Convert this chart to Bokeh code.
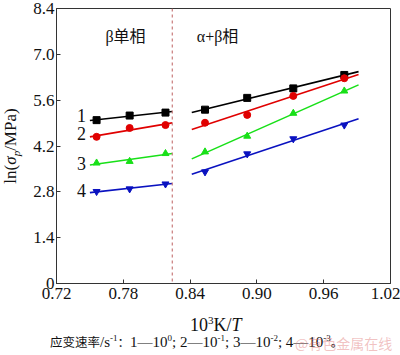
import numpy as np
from bokeh.plotting import figure
from bokeh.models import Range1d, FixedTicker, Label, Span, Div, CustomJSTickFormatter
from bokeh.layouts import column, row
from bokeh.embed import file_html
from bokeh.resources import INLINE

# ---- data ----
x_beta = [0.756, 0.7857, 0.8179]
x_ab = [0.8534, 0.8913, 0.9327, 0.9785]
beta_vals = {
    "1": [4.99, 5.13, 5.22],
    "2": [4.48, 4.75, 4.84],
    "3": [3.68, 3.73, 3.97],
    "4": [2.81, 2.89, 3.04],
}
ab_vals = {
    "1": [5.31, 5.67, 5.96, 6.37],
    "2": [4.91, 5.15, 5.73, 6.27],
    "3": [4.02, 4.50, 5.20, 5.88],
    "4": [3.41, 3.96, 4.42, 4.84],
}
fit_range_beta = [0.750, 0.824]
fit_range_ab = [0.8415, 0.9913]
phase_boundary = 0.824
x_ticks = [0.72, 0.78, 0.84, 0.90, 0.96, 1.02]
y_ticks = [0, 1.4, 2.8, 4.2, 5.6, 7.0, 8.4]
series_names = ["1", "2", "3", "4"]
series_label_y = [5.14, 4.58, 3.68, 2.84]
phase_names = ["β单相", "α+β相"]
phase_label_x = [0.782, 0.8647]
phase_label_y = 7.55
colors = ["#000000", "#e00000", "#18e018", "#0a12c0"]
markers = ["square", "circle", "triangle", "inverted_triangle"]

SERIF = "'Liberation Serif', 'Times New Roman', serif"
SERIF_CJK = "'Liberation Serif', 'Times New Roman', 'Noto Sans CJK SC', serif"

p = figure(width=370, height=307, output_backend="svg", toolbar_location=None,
           x_range=Range1d(0.72, 1.02), y_range=Range1d(0, 8.4),
           min_border_left=22, min_border_right=10, min_border_top=8,
           min_border_bottom=24)
p.background_fill_color = "white"
p.border_fill_color = "white"
p.outline_line_color = "#333333"
p.outline_line_width = 1
p.xgrid.visible = False
p.ygrid.visible = False

p.xaxis[0].formatter = CustomJSTickFormatter(code="return tick.toFixed(2);")
p.yaxis[0].formatter = CustomJSTickFormatter(code="return tick == 0 ? '0' : tick.toFixed(1);")
for ax, ticks in ((p.xaxis[0], x_ticks), (p.yaxis[0], y_ticks)):
    ax.ticker = FixedTicker(ticks=ticks)
    ax.major_tick_in = 4
    ax.major_tick_out = 0
    ax.minor_tick_line_color = None
    ax.major_label_text_font = SERIF
    ax.major_label_text_font_size = "17px"
    ax.major_label_text_color = "#111111"
    ax.axis_line_color = "#333333"
    ax.major_tick_line_color = "#333333"
p.xaxis.major_label_standoff = 4
p.yaxis.major_label_standoff = 2

p.add_layout(Span(location=phase_boundary, dimension="height", line_color="#c87a7a",
                  line_dash="3 3", line_width=1.2))

for name, c, m in zip(series_names, colors, markers):
    for xs, ys, rng in ((x_beta, beta_vals[name], fit_range_beta),
                        (x_ab, ab_vals[name], fit_range_ab)):
        k, b = np.polyfit(xs, ys, 1)
        rx = np.array(rng)
        p.line(rx, k * rx + b, line_color=c, line_width=1.6)
        p.scatter(xs, ys, marker=m, size=7, fill_color=c, line_color=c)

for name, yv in zip(series_names, series_label_y):
    p.add_layout(Label(x=0.7425, y=yv, text=name, text_font=SERIF,
                       text_font_size="18px", text_align="center", text_baseline="middle",
                       text_color="#111111"))

for txt, xv in zip(phase_names, phase_label_x):
    p.add_layout(Label(x=xv, y=phase_label_y, text=txt, text_font=SERIF_CJK,
                       text_font_size="16px", text_align="center", text_baseline="middle",
                       text_color="#111111"))

SERIF_CSS = "'Liberation Serif','Times New Roman',serif"
ylab = Div(width=30, height=307, margin=0, text=(
    "<div style=\"position:relative;width:30px;height:307px;\">"
    "<span style=\"position:absolute;left:12px;top:146px;"
    "transform:translate(-50%,-50%) rotate(-90deg);white-space:nowrap;"
    f"font-family:{SERIF_CSS};font-size:17px;line-height:1;color:#111;\">"
    "ln(<i>σ</i><sub style=\"font-size:11px;\"><i>p</i></sub>/MPa)</span></div>"))

SUP = "<sup style=\"font-size:9px;\">"
CJ = "<span style=\"font-family:'Noto Sans CJK SC';font-size:12.5px;\">"
xlab = Div(width=400, height=48, margin=0, text=(
    "<div style=\"position:relative;width:400px;height:48px;\">"
    "<span style=\"position:absolute;left:190px;top:17px;transform:translateY(-50%);"
    f"white-space:nowrap;font-family:{SERIF_CSS};font-size:18px;line-height:1;color:#111;\">"
    "10<sup style=\"font-size:11px;\">3</sup>K/<i>T</i></span>"
    "<span style=\"position:absolute;left:50px;top:35px;transform:translateY(-50%);"
    f"white-space:nowrap;font-family:{SERIF_CSS};font-size:15px;"
    "line-height:1;color:#111;\">"
    f"{CJ}应变速率</span>/s{SUP}-1</sup>{CJ}：</span>1—10{SUP}0</sup>; "
    f"2—10{SUP}-1</sup>; 3—10{SUP}-2</sup>; 4—10{SUP}-3</sup>{CJ}。</span></span>"
    "<span style=\"position:absolute;left:295px;top:36px;transform:translateY(-50%);"
    "white-space:nowrap;font-family:'Noto Sans CJK SC';font-size:14px;line-height:1;"
    "color:rgba(224,120,120,0.45);\">@有色金属在线</span></div>"))

layout = column(row(ylab, p, spacing=0), xlab, spacing=0)
open("out.html", "w").write(file_html(layout, INLINE))
